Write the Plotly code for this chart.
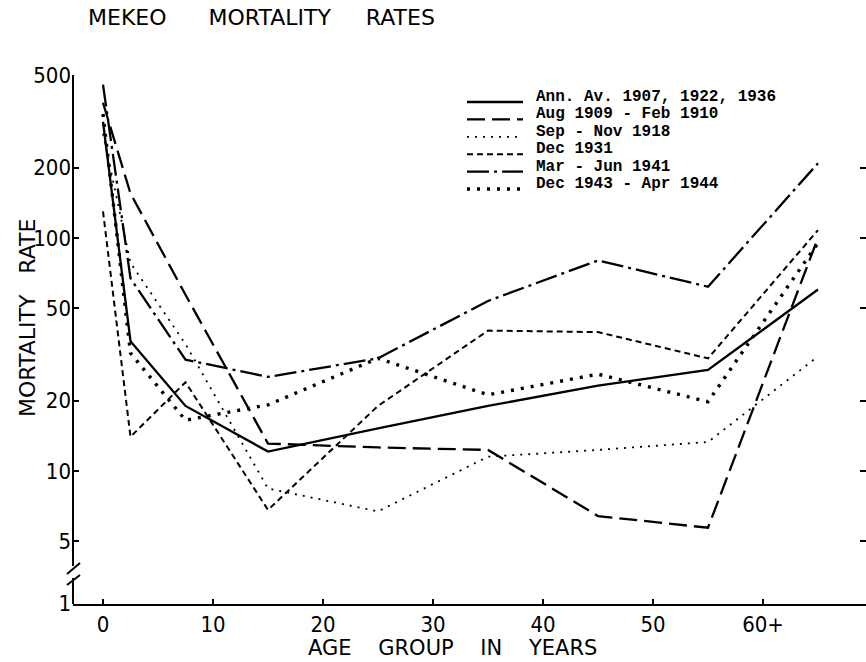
import plotly.graph_objects as go

# ---------------- data ----------------
ages = [0, 2.5, 7.5, 15, 25, 35, 45, 55, 65]
series_names = [
    "Ann. Av. 1907, 1922, 1936",
    "Aug 1909 - Feb 1910",
    "Sep - Nov 1918",
    "Dec 1931",
    "Mar - Jun 1941",
    "Dec 1943 - Apr 1944",
]
ann_av_1907_1922_1936 = [315, 36, 19, 12.1, 15.2, 19.0, 23.2, 27.1, 60]
aug1909_feb1910 = [380, 155, 57, 13.1, 12.6, 12.3, 6.4, 5.7, 100]
sep_nov_1918 = [280, 78, 35, 8.4, 6.7, 11.5, 12.3, 13.3, 31]
dec_1931 = [130, 14, 24, 6.8, 19, 40, 39.4, 30.4, 108]
mar_jun_1941 = [455, 67, 30, 25.3, 30.4, 53.6, 80, 61.7, 209]
dec1943_apr1944 = [340, 32, 16.5, 19.2, 30.4, 21.2, 26, 19.8, 95]

x_tick_vals = [0, 10, 20, 30, 40, 50, 60]
x_tick_text = ["0", "10", "20", "30", "40", "50", "60+"]
y_tick_vals = [2.69, 5, 10, 20, 50, 100, 200, 500]
y_tick_text = ["1", "5", "10", "20", "50", "100", "200", "500"]

# ---------------- styles ----------------
series_values = [ann_av_1907_1922_1936, aug1909_feb1910, sep_nov_1918,
                 dec_1931, mar_jun_1941, dec1943_apr1944]
dashes = ["solid", "18px,7px", "2px,6px", "6px,4px", "22px,5px,3px,5px", "3px,7px"]
widths = [2.3, 2.3, 1.8, 2.0, 2.3, 3.4]

W, H = 866, 662
L, R, T, B = 73, 0, 75, 58
PW, PH = W - L - R, H - T - B


def px_x(px):
    return (px - L) / PW


def px_y(py):
    return (H - B - py) / PH


fig = go.Figure()
for name, vals, d, w in zip(series_names, series_values, dashes, widths):
    fig.add_trace(go.Scatter(x=ages, y=vals, mode="lines", name=name,
                             line=dict(color="black", width=w, dash=d),
                             showlegend=False))

cond = "DejaVu Sans Condensed, DejaVu Sans, sans-serif"
sans = "DejaVu Sans, sans-serif"
mono = "Liberation Mono, DejaVu Sans Mono, monospace"

shapes = []
annotations = []
# legend (drawn manually to match the typewritten key)
for i, (name, d, w) in enumerate(zip(series_names, dashes, widths)):
    cy = 97 + 17.4 * i
    shapes.append(dict(type="line", xref="paper", yref="paper",
                       x0=px_x(467), x1=px_x(523), y0=px_y(cy + 5), y1=px_y(cy + 5),
                       line=dict(color="black", width=w, dash=d)))
    annotations.append(dict(text=name, xref="paper", yref="paper",
                            x=px_x(535), y=px_y(cy), xanchor="left", yanchor="middle",
                            showarrow=False, borderpad=0,
                            font=dict(family=mono, size=16, color="black", weight="bold")))

# broken y axis
shapes.append(dict(type="line", xref="paper", yref="paper", x0=0, x1=0,
                   y0=px_y(566), y1=1, line=dict(color="black", width=2)))
shapes.append(dict(type="line", xref="paper", yref="paper", x0=0, x1=0,
                   y0=0, y1=px_y(578), line=dict(color="black", width=2)))
shapes.append(dict(type="line", xref="paper", yref="paper", x0=px_x(67), x1=px_x(80),
                   y0=px_y(574), y1=px_y(563), line=dict(color="black", width=2)))
shapes.append(dict(type="line", xref="paper", yref="paper", x0=px_x(67), x1=px_x(80),
                   y0=px_y(585), y1=px_y(575), line=dict(color="black", width=2)))

nb = "\u00a0"
annotations.append(dict(text=f"AGE{nb*4}GROUP{nb*4}IN{nb*4}YEARS", xref="paper", yref="paper",
                        x=px_x(452), y=px_y(648), xanchor="center", yanchor="middle",
                        showarrow=False, font=dict(family=sans, size=21, color="black")))
annotations.append(dict(text=f"MORTALITY{nb*3}RATE", xref="paper", yref="paper",
                        x=px_x(27), y=px_y(318), xanchor="center", yanchor="middle",
                        textangle=-90, showarrow=False,
                        font=dict(family=sans, size=22, color="black")))

fig.update_layout(
    width=W, height=H,
    margin=dict(l=L, r=R, t=T, b=B),
    paper_bgcolor="white", plot_bgcolor="white",
    title=dict(text=f"MEKEO{nb*6}MORTALITY{nb*5}RATES", xref="container", yref="container",
               x=88 / W, y=1 - 17 / H, xanchor="left", yanchor="middle",
               font=dict(family=sans, size=22, color="black")),
    xaxis=dict(range=[-30 / 11, -30 / 11 + PW / 11], tickvals=x_tick_vals, ticktext=x_tick_text,
               showline=True, linecolor="black", linewidth=2, ticks="inside", ticklen=5,
               tickwidth=2, tickcolor="black", showgrid=False, zeroline=False,
               tickfont=dict(family=cond, size=22, color="black"), ticklabelstandoff=0),
    yaxis=dict(type="log", range=[2.69897 - PH / 233, 2.69897], tickvals=y_tick_vals,
               ticktext=y_tick_text, showline=False, mirror="ticks", ticks="inside", ticklen=6,
               tickwidth=2, tickcolor="black", showgrid=False, zeroline=False,
               tickfont=dict(family=cond, size=22, color="black"), ticklabelstandoff=1),
    shapes=shapes,
    annotations=annotations,
)

fig.write_html("out.html")
